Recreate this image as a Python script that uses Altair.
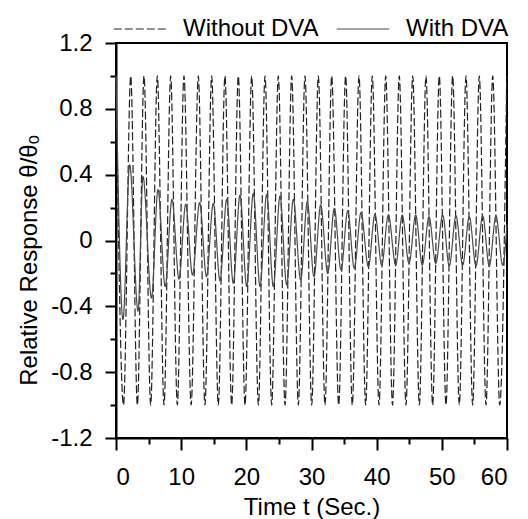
import altair as alt
import pandas as pd

series_names = ["Without DVA", "With DVA"]

# Without DVA: extrema (time in s, relative response)
without_t = [0.0, 1.15, 2.26, 3.28, 4.30, 5.32, 6.34, 7.37, 8.39, 9.41, 10.43, 11.53,
             12.63, 13.65, 14.68, 15.70, 16.72, 17.75, 18.77, 19.80, 20.82, 21.85,
             22.87, 23.89, 24.91, 25.94, 26.96, 27.98, 29.00, 30.03, 31.05, 32.07,
             33.10, 34.17, 35.24, 36.26, 37.29, 38.31, 39.33, 40.36, 41.39, 42.43,
             43.47, 44.50, 45.53, 46.55, 47.57, 48.59, 49.61, 50.64, 51.66, 52.68,
             53.71, 54.73, 55.75, 56.78, 57.81, 58.88, 59.96]
without_v = [1, -1, 1, -1, 1, -1, 1, -1, 1, -1, 1, -1, 1, -1, 1, -1, 1, -1, 1, -1,
             1, -1, 1, -1, 1, -1, 1, -1, 1, -1, 1, -1, 1, -1, 1, -1, 1, -1, 1, -1,
             1, -1, 1, -1, 1, -1, 1, -1, 1, -1, 1, -1, 1, -1, 1, -1, 1, -1, 1]

# With DVA: extrema (time in s, relative response)
with_t = [0.0, 1.07, 2.10, 3.38, 4.14, 5.45, 6.44, 7.55, 8.59, 9.67, 10.70, 11.74,
          12.84, 13.89, 14.93, 15.96, 16.99, 18.00, 19.03, 20.06, 21.07, 22.10,
          23.12, 24.14, 25.17, 26.19, 27.21, 28.34, 29.36, 30.38, 31.41, 32.49,
          33.50, 34.53, 35.56, 36.57, 37.60, 38.72, 39.74, 40.77, 41.79, 42.92,
          43.93, 44.96, 45.99, 47.00, 48.03, 49.06, 50.13, 51.14, 52.17, 53.20,
          54.21, 55.24, 56.27, 57.28, 58.31, 59.34, 60.0]
with_v = [1.0, -0.48, 0.46, -0.43, 0.39, -0.35, 0.31, -0.28, 0.25, -0.235, 0.22, -0.21,
          0.23, -0.22, 0.226, -0.245, 0.25, -0.26, 0.276, -0.28, 0.287, -0.28,
          0.28, -0.28, 0.27, -0.27, 0.25, -0.24, 0.236, -0.22, 0.216, -0.20,
          0.196, -0.18, 0.18, -0.17, 0.17, -0.16, 0.16, -0.15, 0.155, -0.15,
          0.155, -0.14, 0.155, -0.15, 0.145, -0.14, 0.155, -0.155, 0.15, -0.15,
          0.145, -0.155, 0.15, -0.155, 0.15, -0.15, 0.10]

x_ticks = [0, 5, 10, 15, 20, 25, 30, 35, 40, 45, 50, 55, 60]
y_ticks = [-1.2, -1.0, -0.8, -0.6, -0.4, -0.2, 0.0, 0.2, 0.4, 0.6, 0.8, 1.0, 1.2]

df = pd.concat([
    pd.DataFrame({"t": without_t, "v": without_v, "series": "Without DVA"}),
    pd.DataFrame({"t": with_t, "v": with_v, "series": "With DVA"}),
], ignore_index=True)

FONT = "Liberation Sans"
FS = 24

legend_kw = dict(
    orient="none", legendX=-3, legendY=-41, direction="horizontal", title=None,
    labelFont=FONT, labelFontSize=FS, labelColor="black", symbolType="stroke",
    symbolSize=2750, symbolStrokeWidth=1.2, labelOffset=16, columnPadding=15,
    padding=0,
)

chart = alt.Chart(df).mark_line(interpolate="monotone", strokeWidth=1.2).encode(
    x=alt.X("t:Q", scale=alt.Scale(domain=[0, 60], nice=False, zero=False),
            axis=alt.Axis(values=x_ticks, title="Time t (Sec.)",
                          labelExpr="datum.value % 10 == 0 ? datum.label : ''",
                          tickSize={"condition": {"test": "datum.value % 10 == 0", "value": 12}, "value": 6},
                          labelPadding=15, titlePadding=6)),
    y=alt.Y("v:Q", scale=alt.Scale(domain=[-1.2, 1.2], nice=False, zero=False),
            axis=alt.Axis(values=y_ticks, title="Relative Response θ/θₒ",
                          labelExpr="abs(round(datum.value*10)) % 4 == 0 ? toString(round(datum.value*10)/10) : ''",
                          tickSize={"condition": {"test": "abs(round(datum.value*10)) % 4 == 0", "value": 11}, "value": 6},
                          labelPadding=13, titlePadding=9, titleY=217)),
    color=alt.Color("series:N", scale=alt.Scale(domain=series_names, range=["#222222", "#4a4a4a"]),
                    legend=alt.Legend(**legend_kw)),
    strokeDash=alt.StrokeDash("series:N", scale=alt.Scale(domain=series_names, range=[[8, 3], [1, 0]]),
                              legend=alt.Legend(**legend_kw)),
).properties(
    width=391, height=395,
    autosize=alt.AutoSizeParams(type="none"),
    padding={"left": 116, "top": 43, "right": 21, "bottom": 81},
).configure_view(
    stroke="black", strokeWidth=2
).configure_axis(
    grid=False, domainColor="black", domainWidth=2, tickColor="black", tickWidth=2,
    labelFont=FONT, labelFontSize=FS, labelColor="black",
    titleFont=FONT, titleFontSize=FS, titleFontWeight="normal", titleColor="black",
)

chart.save("out.html", embed_options={"renderer": "svg", "actions": False})
